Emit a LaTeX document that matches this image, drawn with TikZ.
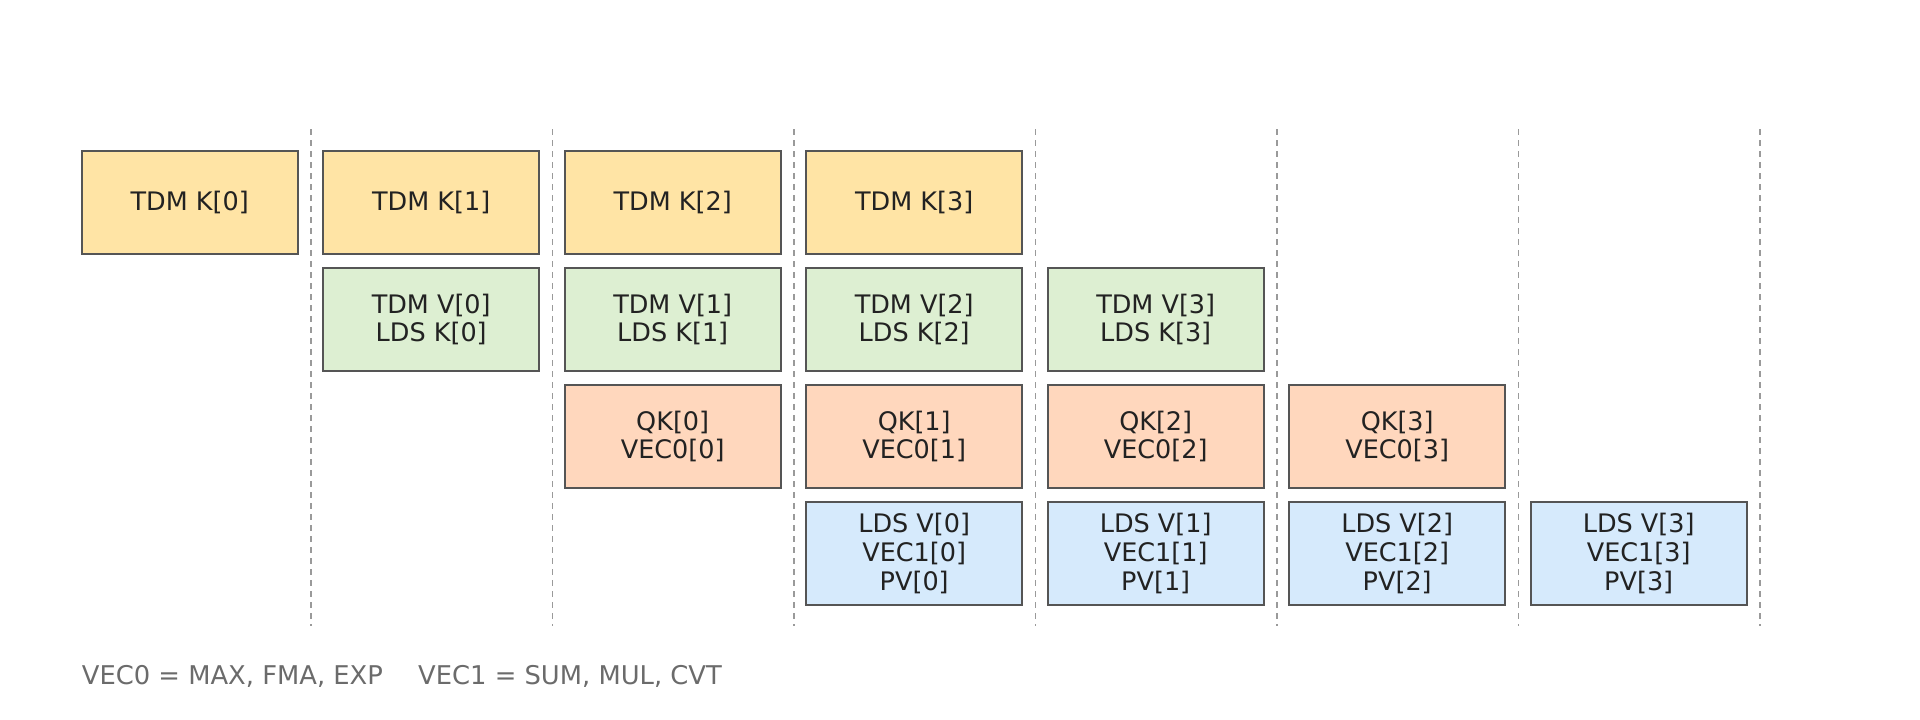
\documentclass[tikz,border=0pt]{standalone}
\usepackage{fontspec}
\setmainfont{DejaVu Sans}
\definecolor{kyel}{HTML}{FFE4A5}
\definecolor{vgrn}{HTML}{DDEFD2}
\definecolor{qorg}{HTML}{FFD7BD}
\definecolor{lblu}{HTML}{D6EAFC}
\definecolor{bord}{HTML}{555555}
\definecolor{txt}{HTML}{222222}
\definecolor{sep}{HTML}{9A9A9A}
\definecolor{leg}{HTML}{6B6B6B}
\begin{document}
\begin{tikzpicture}[x=1pt,y=-1pt,
  box/.style={draw=bord,line width=2pt,minimum width=216pt,minimum height=103pt,inner sep=0pt,
    align=center,text=txt,font=\fontsize{25.5}{28.7}\selectfont},
  kbox/.style={box,fill=kyel},
  vbox/.style={box,fill=vgrn},
  qbox/.style={box,fill=qorg},
  lbox/.style={box,fill=lblu},
  sepline/.style={draw=sep,line width=1.6pt,dash pattern=on 6pt off 5pt},
  legend/.style={anchor=base west,inner sep=0pt,text=leg,font=\fontsize{25.8}{30}\selectfont}]
\useasboundingbox (0,0) rectangle (1920,720);
% separators
\foreach \k in {0,...,6}{
  \coordinate (st\k) at (310.85+\k*241.5,129);
  \coordinate (sb\k) at (310.85+\k*241.5,626);
  \draw[sepline] (st\k) -- (sb\k);
}
% row 0
\foreach \c in {0,...,3}{
  \node[kbox] (k\c) at (189.7+\c*241.5,202.5) {TDM K[\c]};
}
% row 1
\foreach \i in {0,...,3}{
  \node[vbox] (v\i) at (189.7+\i*241.5+241.5,319.5) {TDM V[\i]\\LDS K[\i]};
}
% row 2
\foreach \i in {0,...,3}{
  \node[qbox] (q\i) at (189.7+\i*241.5+483,436.5) {QK[\i]\\VEC0[\i]};
}
% row 3
\foreach \i in {0,...,3}{
  \node[lbox] (l\i) at (189.7+\i*241.5+724.5,553.5) {LDS V[\i]\\VEC1[\i]\\PV[\i]};
}
\node[legend] (leg0) at (81.7,684) {VEC0 = MAX, FMA, EXP};
\node[legend] (leg1) at (418,684) {VEC1 = SUM, MUL, CVT};
\end{tikzpicture}
\end{document}
